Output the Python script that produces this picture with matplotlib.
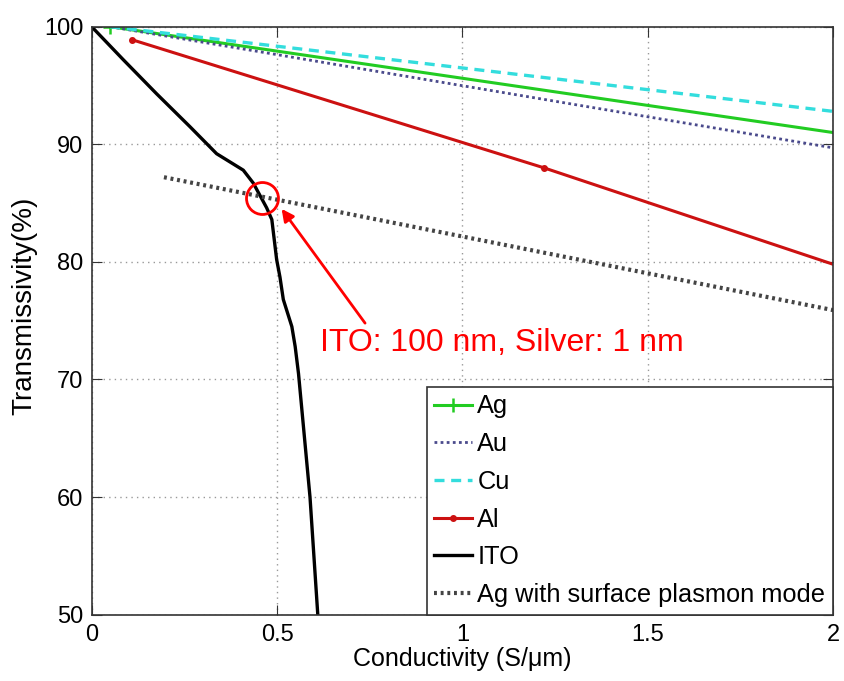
import numpy as np
import matplotlib
matplotlib.use('Agg')
import matplotlib.pyplot as plt

plt.rcParams['font.family'] = ['Liberation Sans', 'DejaVu Sans']

# transmissivity vs conductivity for thin metal films and ITO
ag_x = [0.05, 2.0]
ag_y = [100.0, 91.0]

au_x = [0.05, 2.0]
au_y = [100.0, 89.7]

cu_x = [0.05, 2.0]
cu_y = [100.0, 92.8]

al_x = [0.108, 1.22, 2.0]
al_y = [98.9, 88.0, 79.8]

ito_x = [0.0, 0.085, 0.175, 0.265, 0.337, 0.409, 0.436, 0.472, 0.486,
         0.499, 0.508, 0.517, 0.540, 0.549, 0.558, 0.589, 0.610]
ito_y = [100.0, 97.2, 94.3, 91.5, 89.2, 87.8, 86.7, 84.6, 83.6,
         80.2, 78.7, 76.8, 74.5, 72.8, 70.5, 60.0, 50.0]

sp_x = [0.195, 2.0]
sp_y = [87.2, 75.9]

# ITO 100 nm / Ag 1 nm crossing point
cross_x, cross_y = 0.459, 85.4

fig = plt.figure(figsize=(8.45, 6.81), dpi=100)
ax = fig.add_axes([0.1085, 0.0974, 0.8773, 0.8634])

ax.plot(ag_x, ag_y, '-', color='#22cc22', lw=2.2, marker='+', ms=10, mew=1.8,
        markevery=[0], label='Ag')
ax.plot(au_x, au_y, color='#4a4a8c', lw=2.0, ls=(0, (1, 1.2)), label='Au')
ax.plot(cu_x, cu_y, color='#33dddd', lw=2.4, ls=(0, (3, 2)), label='Cu')
ax.plot(al_x, al_y, '-', color='#cc1111', lw=2.2, marker='.', ms=8,
        markevery=[0, 1], label='Al')
ax.plot(ito_x, ito_y, '-', color='black', lw=2.4, label='ITO')
ax.plot(sp_x, sp_y, color='#444444', lw=3.0, ls=(0, (0.7, 0.9)),
        label='Ag with surface plasmon mode')

# highlight the crossing with a circle and arrow
ax.plot(cross_x, cross_y, 'o', mfc='none', mec='red', ms=23, mew=2)
ax.annotate('', xy=(0.508, 84.7), xytext=(0.742, 74.6),
            arrowprops=dict(arrowstyle='-|>', color='red', lw=2,
                            mutation_scale=18))
ax.text(0.616, 73.1, 'ITO: 100 nm, Silver: 1 nm', color='red',
        fontsize=23, va='center', ha='left')

ax.set_xlim(0, 2)
ax.set_ylim(50, 100)
ax.set_xticks([0, 0.5, 1, 1.5, 2])
ax.set_xticklabels(['0', '0.5', '1', '1.5', '2'])
ax.set_yticks([50, 60, 70, 80, 90, 100])
ax.grid(True, color='#999999', ls=(0, (1, 3)), lw=1)
ax.tick_params(direction='in', length=7, top=True, right=True,
               labelsize=17, colors='#333333', labelcolor='black')
ax.tick_params(axis='x', pad=6.5)
ax.tick_params(axis='y', pad=6)
for s in ax.spines.values():
    s.set_color('#333333')
    s.set_linewidth(1.2)

ax.set_xlabel('Conductivity (S/\u03bcm)', fontsize=18, labelpad=1)
ax.set_ylabel('Transmissivity(%)', fontsize=20)
ax.yaxis.set_label_coords(-0.091, 0.525)
ax.yaxis.label.set_va('center')

leg = ax.legend(loc='lower right', fontsize=18.3, borderaxespad=0,
                fancybox=False, edgecolor='#333333', framealpha=1,
                handlelength=1.5, handletextpad=0.2, labelspacing=0.54,
                borderpad=0.3)
leg.get_frame().set_linewidth(1.2)

fig.savefig('out.png', dpi=100)
